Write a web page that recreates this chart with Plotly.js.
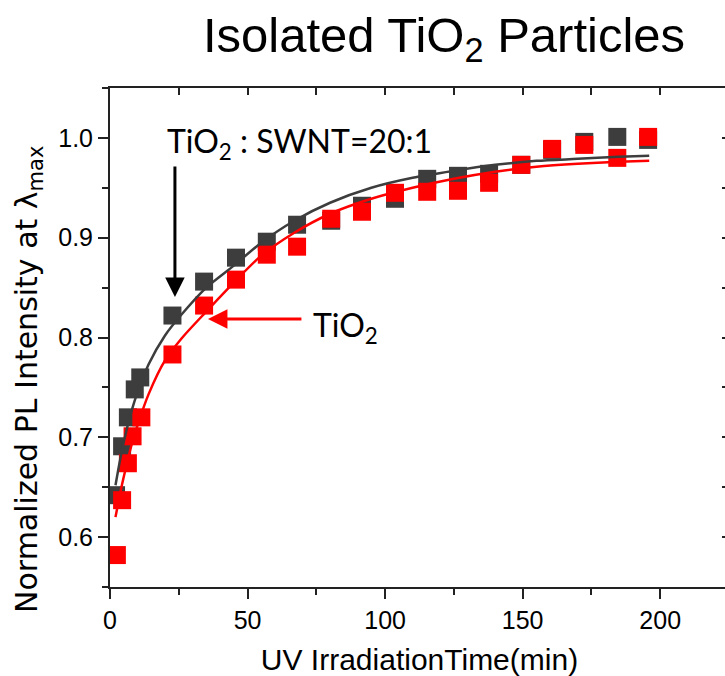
<!DOCTYPE html>
<html>
<head>
<meta charset="utf-8">
<script src="https://cdn.plot.ly/plotly-3.0.1.min.js"></script>
<style>
html, body { margin: 0; padding: 0; overflow: hidden; background: #fff; }
#chart { width: 740px; height: 676px; }
</style>
</head>
<body>
<div id="chart"></div>
<script>
// ---- data ----
const timeSWNT = [2.2, 4.4, 6.5, 9, 11, 22.7, 34.2, 45.8, 57, 68, 80.4, 91.6, 103.6, 115.3, 126.5, 137.8, 149.5, 160.7, 172.4, 184.4, 195.6];
const plSWNT   = [0.642, 0.691, 0.720, 0.748, 0.760, 0.822, 0.856, 0.880, 0.896, 0.913, 0.917, 0.932, 0.939, 0.959, 0.962, 0.964, 0.973, 0.988, 0.996, 1.001, 0.998];

const timeTiO2 = [2.5, 4.4, 6.5, 8.2, 11.4, 22.7, 34.2, 45.8, 57, 68, 80.4, 91.6, 103.6, 115.3, 126.5, 137.8, 149.5, 160.7, 172.4, 184.4, 195.6];
const plTiO2   = [0.582, 0.637, 0.674, 0.701, 0.720, 0.783, 0.832, 0.858, 0.883, 0.891, 0.919, 0.926, 0.945, 0.946, 0.947, 0.955, 0.973, 0.989, 0.993, 0.980, 1.001];

// fitted curves
const fitTime  = [2, 4, 6, 8, 10, 14, 20, 26, 35, 45, 55, 67, 80, 95, 110, 125, 140, 155, 170, 185, 196];
const fitSWNT  = [0.652, 0.682, 0.707, 0.728, 0.745, 0.773, 0.802, 0.823, 0.850, 0.872, 0.895, 0.917, 0.935, 0.950, 0.960, 0.967, 0.973, 0.977, 0.979, 0.981, 0.982];
const fitTiO2  = [0.620, 0.648, 0.672, 0.694, 0.712, 0.743, 0.777, 0.799, 0.826, 0.855, 0.882, 0.905, 0.924, 0.939, 0.950, 0.959, 0.966, 0.971, 0.974, 0.976, 0.977];

const xTicks = [0, 50, 100, 150, 200];
const yTicks = [0.6, 0.7, 0.8, 0.9, 1.0];
const yTickText = ['0.6', '0.7', '0.8', '0.9', '1.0'];

const DARK = '#3d3d3d';
const RED = '#ff0000';
const AXC = '#222222';

const traces = [
  { x: timeSWNT, y: plSWNT, type: 'scatter', mode: 'markers', name: 'TiO2:SWNT=20:1',
    marker: { symbol: 'square', size: 18, color: DARK, line: { width: 0 } }, hoverinfo: 'x+y' },
  { x: timeTiO2, y: plTiO2, type: 'scatter', mode: 'markers', name: 'TiO2',
    marker: { symbol: 'square', size: 18, color: RED, line: { width: 0 } }, hoverinfo: 'x+y' },
  { x: fitTime, y: fitSWNT, type: 'scatter', mode: 'lines', name: 'fit SWNT',
    line: { color: DARK, width: 2.5, shape: 'spline', smoothing: 0.8 }, hoverinfo: 'skip' },
  { x: fitTime, y: fitTiO2, type: 'scatter', mode: 'lines', name: 'fit TiO2',
    line: { color: RED, width: 2.5, shape: 'spline', smoothing: 0.8 }, hoverinfo: 'skip' },
  { x: [], y: [], xaxis: 'x2', yaxis: 'y2', type: 'scatter', mode: 'markers', showlegend: false, hoverinfo: 'skip' }
];

const tickFont = { family: 'Liberation Sans, Arial, sans-serif', size: 25, color: '#000' };

const layout = {
  width: 740, height: 676,
  margin: { l: 110, r: 11, t: 88, b: 89, pad: 0 },
  paper_bgcolor: '#fff', plot_bgcolor: '#fff',
  showlegend: false,
  font: { family: 'Liberation Sans, Arial, sans-serif', color: '#000' },
  title: {
    text: 'Isolated TiO<sub>2</sub> Particles',
    font: { family: 'Liberation Sans, Arial, sans-serif', size: 49, color: '#000' },
    xref: 'container', yref: 'container',
    x: 444 / 740, xanchor: 'center',
    y: 1 - 35 / 676, yanchor: 'middle'
  },
  xaxis: {
    range: [0, 225], tickvals: xTicks, ticktext: xTicks.map(String),
    ticks: 'outside', ticklen: 10, tickwidth: 2, tickcolor: AXC,
    showline: true, linewidth: 2, linecolor: AXC,
    showgrid: false, zeroline: false, tickfont: tickFont,
    minor: { dtick: 25, tick0: 0, ticks: 'outside', ticklen: 6, tickwidth: 2, tickcolor: AXC, showgrid: false },
    title: { text: 'UV IrradiationTime(min)', font: { family: 'Liberation Sans, Arial, sans-serif', size: 30, color: '#000' }, standoff: 17 }
  },
  yaxis: {
    range: [0.55, 1.05], tickvals: yTicks, ticktext: yTickText,
    ticks: 'outside', ticklen: 10, tickwidth: 2, tickcolor: AXC,
    showline: true, linewidth: 2, linecolor: AXC,
    showgrid: false, zeroline: false, tickfont: tickFont,
    minor: { dtick: 0.05, tick0: 0.55, ticks: 'outside', ticklen: 6, tickwidth: 2, tickcolor: AXC, showgrid: false }
  },
  xaxis2: {
    overlaying: 'x', side: 'top', anchor: 'y2', range: [0, 225],
    tick0: 0, dtick: 25, ticks: 'inside', ticklen: 7, tickwidth: 2, tickcolor: AXC,
    showline: true, linewidth: 2, linecolor: AXC, showticklabels: false,
    showgrid: false, zeroline: false
  },
  yaxis2: {
    overlaying: 'y', side: 'right', anchor: 'x2', range: [0.55, 1.05],
    tick0: 0.55, dtick: 0.05, ticks: 'inside', ticklen: 7, tickwidth: 2, tickcolor: AXC,
    showline: true, linewidth: 2, linecolor: AXC, showticklabels: false,
    showgrid: false, zeroline: false
  },
  annotations: [
    // y-axis title (placed lower than centre, as in the reference)
    { xref: 'paper', yref: 'paper', x: (28 - 110) / 618.75, y: (587 - 379) / 499,
      xanchor: 'center', yanchor: 'middle', textangle: -90, showarrow: false,
      text: 'Normalized PL Intensity at λ<sub>max</sub>',
      font: { family: 'DejaVu Sans, sans-serif', size: 30, color: '#000' } },
    { xref: 'x', yref: 'y', x: 23.6, y: 0.8407, ax: 0, ay: -132, text: '',
      showarrow: true, arrowhead: 2, arrowsize: 1.3, arrowwidth: 3, arrowcolor: '#000' },
    { xref: 'x', yref: 'y', x: 35.6, y: 0.8186, ax: 95, ay: 0, text: '',
      showarrow: true, arrowhead: 2, arrowsize: 1.3, arrowwidth: 3, arrowcolor: RED },
    { xref: 'x', yref: 'y', x: 20, y: 0.995, xanchor: 'left', yanchor: 'middle', showarrow: false,
      text: 'TiO<sub>2</sub> : SWNT=20:1', font: { family: 'Lato, sans-serif', size: 32, color: '#000' } },
    { xref: 'x', yref: 'y', x: 73, y: 0.811, xanchor: 'left', yanchor: 'middle', showarrow: false,
      text: 'TiO<sub>2</sub>', font: { family: 'Lato, sans-serif', size: 32, color: '#000' } }
  ]
};

Plotly.newPlot('chart', traces, layout, { displayModeBar: false, staticPlot: true });
</script>
</body>
</html>
